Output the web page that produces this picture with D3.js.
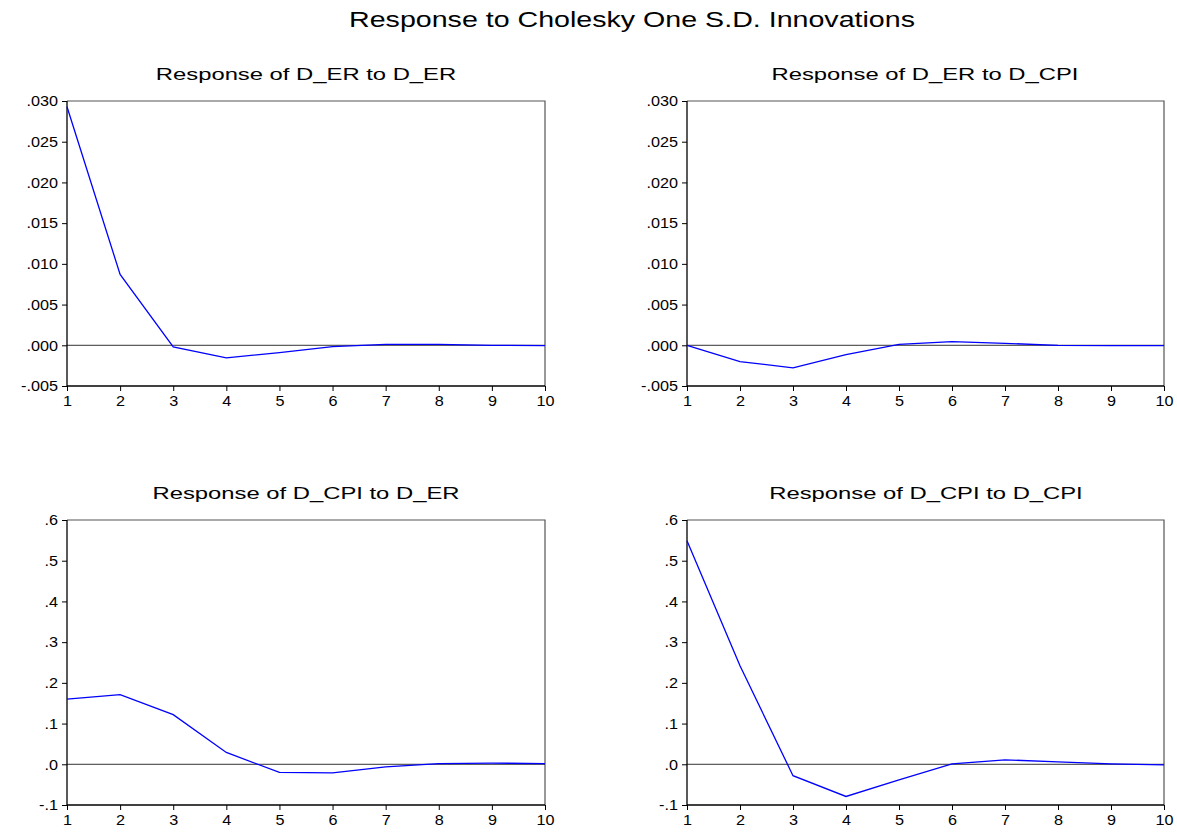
<!DOCTYPE html>
<html lang="en">
	<head>
		<meta charset="utf-8">
		<title>Response to Cholesky One S.D. Innovations</title>
		<script type="text/javascript" src="https://d3js.org/d3.v7.min.js"></script>
		<style type="text/css">
			body { margin: 0; background: #fff; }
			text { font-family: "Liberation Sans", Arial, sans-serif; fill: #000; }
		</style>
	</head>
	<body>
		<script type="text/javascript">

			//Canvas size
			var w = 1177;
			var h = 834;

			var periods = [1, 2, 3, 4, 5, 6, 7, 8, 9, 10];

			var titles = ["Response of D_ER to D_ER", "Response of D_ER to D_CPI",
						  "Response of D_CPI to D_ER", "Response of D_CPI to D_CPI"];

			var erToEr   = [0.0293, 0.0087, -0.0002, -0.00155, -0.0009, -0.00016, 0.0001, 0.0001, 0.0, -0.00004];
			var erToCpi  = [0.0, -0.002, -0.00278, -0.00114, 0.00012, 0.00045, 0.00024, 0.0, -0.00004, -0.00004];
			var cpiToEr  = [0.160, 0.171, 0.122, 0.029, -0.020, -0.021, -0.0065, 0.0016, 0.003, 0.0016];
			var cpiToCpi = [0.549, 0.242, -0.028, -0.079, -0.038, 0.001, 0.011, 0.0057, 0.001, -0.0016];

			var erTicks  = [-0.005, 0, 0.005, 0.010, 0.015, 0.020, 0.025, 0.030];
			var cpiTicks = [-0.1, 0, 0.1, 0.2, 0.3, 0.4, 0.5, 0.6];

			var panels = [
				{ title: titles[0], values: erToEr,   ticks: erTicks,  dec: 3, x0: 67,  x1: 545,  y0: 101, y1: 386, tx: 306 },
				{ title: titles[1], values: erToCpi,  ticks: erTicks,  dec: 3, x0: 687, x1: 1164, y0: 101, y1: 386, tx: 925 },
				{ title: titles[2], values: cpiToEr,  ticks: cpiTicks, dec: 1, x0: 67,  x1: 545,  y0: 520, y1: 805, tx: 306 },
				{ title: titles[3], values: cpiToCpi, ticks: cpiTicks, dec: 1, x0: 687, x1: 1164, y0: 520, y1: 805, tx: 926 }
			];

			//EViews style labels: drop leading zero
			function fmt(d, dec) {
				var s = Math.abs(d).toFixed(dec).replace(/^0/, "");
				return (d < 0 ? "-" : "") + s;
			}

			//the original text is drawn wider than a normal font, stretch it
			function stretch(sel, k) {
				sel.each(function() {
					var len = this.getComputedTextLength();
					d3.select(this)
					  .attr("textLength", len * k)
					  .attr("lengthAdjust", "spacingAndGlyphs");
				});
			}

			var svg = d3.select("body")
						.append("svg")
						.attr("width", w)
						.attr("height", h);

			svg.append("text")
			   .attr("x", 632)
			   .attr("y", 27)
			   .attr("text-anchor", "middle")
			   .attr("font-size", "22px")
			   .text("Response to Cholesky One S.D. Innovations")
			   .call(stretch, 1.3);

			panels.forEach(function(p) {
				var x = d3.scaleLinear().domain([1, 10]).range([p.x0, p.x1]);
				var y = d3.scaleLinear().domain([p.ticks[0], p.ticks[p.ticks.length - 1]]).range([p.y1, p.y0]);
				var g = svg.append("g");

				g.append("text")
				 .attr("x", p.tx)
				 .attr("y", p.y0 - 21)
				 .attr("text-anchor", "middle")
				 .attr("font-size", "17px")
				 .text(p.title)
				 .call(stretch, 1.4);

				//frame top/right
				g.append("path")
				 .attr("d", "M" + p.x0 + "," + p.y0 + "H" + p.x1 + "V" + p.y1)
				 .attr("fill", "none")
				 .attr("stroke", "#555")
				 .attr("stroke-width", 1.2);

				//zero line
				g.append("line")
				 .attr("x1", p.x0).attr("x2", p.x1)
				 .attr("y1", y(0)).attr("y2", y(0))
				 .attr("stroke", "#333")
				 .attr("stroke-width", 1);

				var yAxis = d3.axisLeft(y)
							  .tickValues(p.ticks)
							  .tickSize(5)
							  .tickPadding(4)
							  .tickFormat(function(d) { return fmt(d, p.dec); });
				var xAxis = d3.axisBottom(x)
							  .tickValues(periods)
							  .tickSize(5)
							  .tickPadding(4)
							  .tickFormat(d3.format("d"));

				var ya = g.append("g")
						  .attr("transform", "translate(" + p.x0 + ",0)")
						  .call(yAxis);
				var xa = g.append("g")
						  .attr("transform", "translate(0," + p.y1 + ")")
						  .call(xAxis);

				[ya, xa].forEach(function(a) {
					a.selectAll("text")
					 .attr("font-size", "15px")
					 .attr("font-family", "Liberation Sans, Arial, sans-serif")
					 .attr("fill", "#000")
					 .call(stretch, 1.08);
					a.select(".domain").attr("stroke", "#000").attr("stroke-width", 1.3);
					a.selectAll(".tick line").attr("stroke", "#000");
				});
				ya.select(".domain").attr("d", "M0," + p.y0 + "V" + p.y1);
				xa.select(".domain").attr("d", "M" + p.x0 + ",0H" + p.x1);

				var line = d3.line()
							 .x(function(d, i) { return x(periods[i]); })
							 .y(function(d) { return y(d); });

				g.append("path")
				 .datum(p.values)
				 .attr("d", line)
				 .attr("fill", "none")
				 .attr("stroke", "#0000ff")
				 .attr("stroke-width", 1.3);
			});

		</script>
	</body>
</html>
